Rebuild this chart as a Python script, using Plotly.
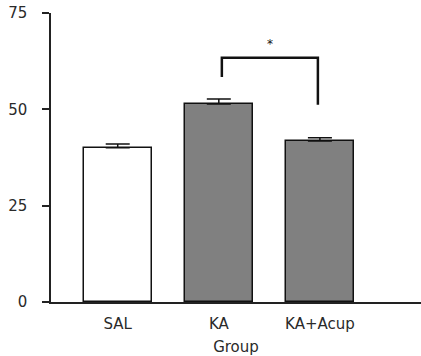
import plotly.graph_objects as go

categories = ["SAL", "KA", "KA+Acup"]
means = [40.0, 51.4, 41.8]
errors = [1.0, 1.3, 0.8]
fills = ["#ffffff", "#808080", "#808080"]
y_ticks = [0, 25, 50, 75]

# significance bracket (data units)
bracket_x = [1.03, 1.98]
bracket_top = 63.4
bracket_left_bottom = 58.4
bracket_right_bottom = 51.2
star_label = "*"
star_y = 67.0

positions = list(range(len(categories)))

fig = go.Figure()
fig.add_trace(go.Bar(
    x=positions, y=means, width=0.67,
    marker=dict(color=fills, line=dict(color="#111111", width=1.5)),
    error_y=dict(type="data", array=errors, symmetric=False,
                 color="#111111", thickness=1.5, width=12),
    showlegend=False,
))

fig.add_shape(type="path",
    path=f"M {bracket_x[0]} {bracket_left_bottom} L {bracket_x[0]} {bracket_top} L {bracket_x[1]} {bracket_top} L {bracket_x[1]} {bracket_right_bottom}",
    xref="x", yref="y", line=dict(color="#111111", width=2.5))
fig.add_annotation(x=(bracket_x[0]+bracket_x[1])/2, y=star_y, text=star_label, showarrow=False,
                   xref="x", yref="y", font=dict(family="DejaVu Sans", size=12, color="#111111"))

font = dict(family="DejaVu Sans, sans-serif", size=15, color="#2a2a2a")
fig.update_layout(
    width=421, height=356,
    margin=dict(l=51, r=0, t=13, b=54),
    paper_bgcolor="white", plot_bgcolor="white",
    font=font,
    bargap=0,
)
fig.update_xaxes(
    range=[-0.66, 3.0], tickvals=positions, ticktext=categories, automargin=False,
    showline=True, linecolor="#222222", linewidth=1.5, ticks="", showgrid=False, zeroline=False,
    ticklabelstandoff=7,
    title=dict(text="Group", standoff=10, font=font),
)
fig.update_yaxes(
    range=[0, 75], tickvals=y_ticks, showline=True, linecolor="#222222", linewidth=1.5, automargin=False,
    ticks="outside", ticklen=7, tickwidth=1.5, tickcolor="#222222", showgrid=False, zeroline=False,
    ticklabelstandoff=12,
)
fig.write_html(
    "out.html",
    config={"displayModeBar": False},
    post_script="document.body.style.margin='0';document.body.style.overflow='hidden';document.documentElement.style.overflow='hidden';",
)
